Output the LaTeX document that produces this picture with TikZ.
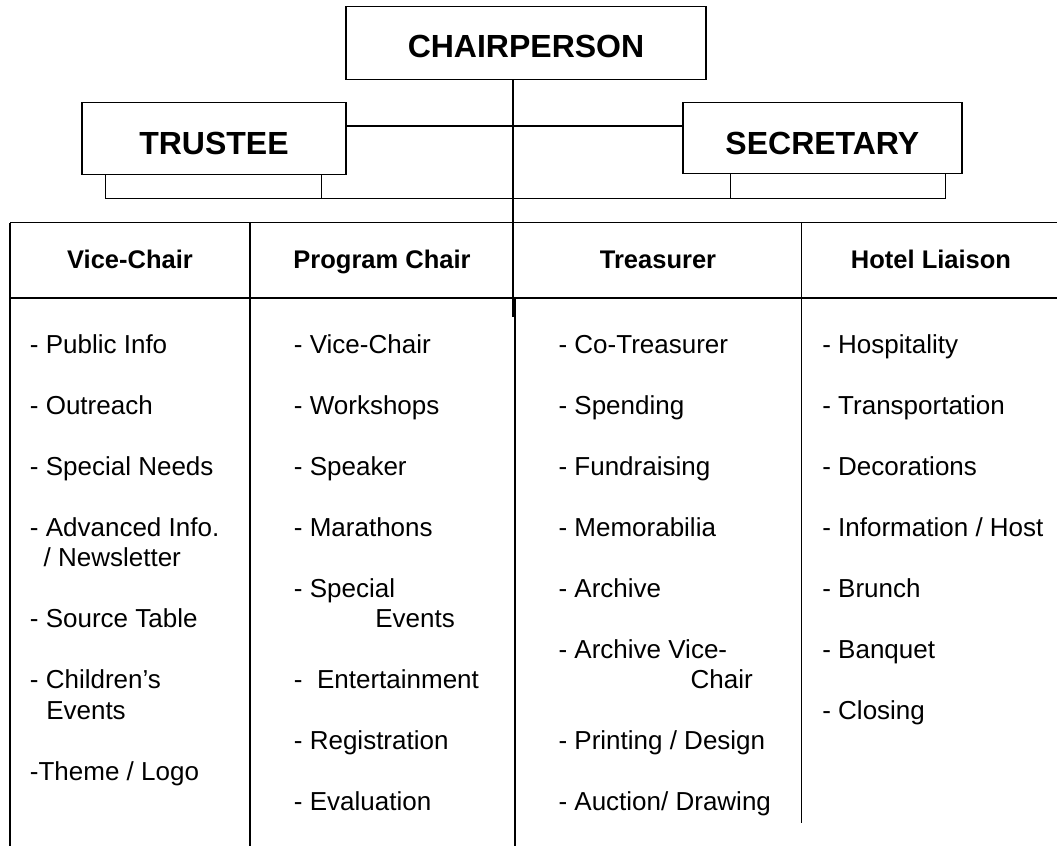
\documentclass[tikz,border=0pt]{standalone}
\usepackage{fontspec}
\setmainfont{Liberation Sans}
\begin{document}
\begin{tikzpicture}[x=1pt,y=-1pt,
  line width=1.3pt,
  officebox/.style={draw, rectangle, inner sep=0pt, text depth=0pt,
    font=\bfseries\fontsize{32}{38}\selectfont},
  headcell/.style={anchor=base, inner sep=0pt,
    font=\bfseries\fontsize{25.5}{30}\selectfont},
  item/.style={anchor=base west, inner sep=0pt,
    font=\fontsize{26}{30}\selectfont}]
\useasboundingbox (0,0) rectangle (1057,846);

% officers
\node[officebox, minimum width=360pt, minimum height=73pt, text height=29.4pt]
  (chair) at (526,42.8) {CHAIRPERSON};
\node[officebox, minimum width=264pt, minimum height=72pt, text height=33pt]
  (trustee) at (214,138.3) {TRUSTEE};
\node[officebox, minimum width=279pt, minimum height=71pt, text height=33pt]
  (secretary) at (822.35,137.7) {SECRETARY};

% connectors between the officers and the committee table
\coordinate (drop) at (513,317);
\coordinate (link) at (513,126);
\coordinate (bar)  at (513,198.3);
\draw (drop |- chair.south) -- (drop);
\draw (trustee.east |- link) -- (secretary.west |- link);

% brackets under trustee and secretary, joined by one rule
\coordinate (tL) at ([xshift=-108.3pt]trustee.south);
\coordinate (tR) at ([xshift=107.7pt]trustee.south);
\coordinate (sL) at ([xshift=-92.15pt]secretary.south);
\coordinate (sR) at ([xshift=123.35pt]secretary.south);
\draw (tL) |- (sR |- bar) -- (sR);
\draw (tR) -- (tR |- bar);
\draw (sL) -- (sL |- bar);

% committee table rules
\coordinate (tabNW) at (10,222.7);
\coordinate (tabHd) at (10,298);
\draw (tabNW) -- (1057,222.7);
\draw (tabHd) -- (1057,298);
\draw (tabNW) -- (10,846);
\draw (250,222.7) -- (250,846);
\draw (515,298) -- (515,846);
\draw (801.7,222.7) -- (801.7,823);

% column headings
\node[headcell] (hvice)  at (130,268) {Vice-Chair};
\node[headcell] (hprog)  at (382,268) {Program Chair};
\node[headcell] (htreas) at (658,268) {Treasurer};
\node[headcell] (hhotel) at (931,268) {Hotel Liaison};

% Vice-Chair duties
\foreach \k/\dx/\t [count=\i] in {
  0/0/{- Public Info}, 2/0/{- Outreach}, 4/0/{- Special Needs},
  6/0/{- Advanced Info.}, 7/13.7/{/ Newsletter}, 9/0/{- Source Table},
  11/0/{- Children’s}, 12/16.3/{Events}, 14/0/{-Theme / Logo}}
  \node[item] (va\i) at (29.3+\dx, 353+30.5*\k) {\t};

% Program Chair duties
\foreach \k/\dx/\t [count=\i] in {
  0/0/{- Vice-Chair}, 2/0/{- Workshops}, 4/0/{- Speaker},
  6/0/{- Marathons}, 8/0/{- Special}, 9/81.4/{Events},
  11/0/{- \ Entertainment}, 13/0/{- Registration}, 15/0/{- Evaluation}}
  \node[item] (pc\i) at (293.3+\dx, 353+30.5*\k) {\t};

% Treasurer duties
\foreach \k/\dx/\t [count=\i] in {
  0/0/{- Co-Treasurer}, 2/0/{- Spending}, 4/0/{- Fundraising},
  6/0/{- Memorabilia}, 8/0/{- Archive}, 10/0/{- Archive Vice-},
  11/132.1/{Chair}, 13/0/{- Printing / Design}, 15/0/{- Auction/ Drawing}}
  \node[item] (tr\i) at (557.9+\dx, 353+30.5*\k) {\t};

% Hotel Liaison duties
\foreach \k/\t [count=\i] in {
  0/{- Hospitality}, 2/{- Transportation}, 4/{- Decorations},
  6/{- Information / Host}, 8/{- Brunch}, 10/{- Banquet}, 12/{- Closing}}
  \node[item] (hl\i) at (821.7, 353+30.5*\k) {\t};
\end{tikzpicture}
\end{document}
